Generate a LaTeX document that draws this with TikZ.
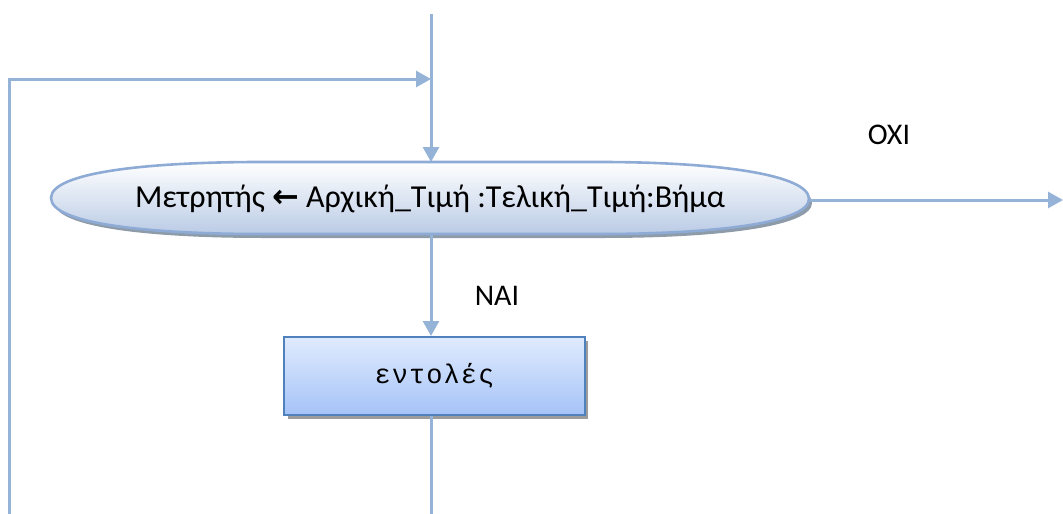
\documentclass[tikz,border=0pt]{standalone}
\usepackage{fontspec}
\setmainfont{Carlito}
\newfontfamily\arrowfont{DejaVu Sans}
\newfontfamily\monof[LetterSpace=4]{Liberation Mono}
\usetikzlibrary{shapes.geometric,arrows.meta}
\definecolor{lineblue}{HTML}{95B3D7}
\definecolor{ellborder}{HTML}{8EABD6}
\definecolor{elltop}{HTML}{FFFFFF}
\definecolor{ellbot}{HTML}{BACBE5}
\definecolor{boxtop}{HTML}{E0EBFD}
\definecolor{boxbot}{HTML}{A5C3F8}
\definecolor{boxborder}{HTML}{4F81BD}
\definecolor{shadowgray}{HTML}{8A8A8A}
\tikzset{
  conn/.style={draw=lineblue, line width=3pt, -{Triangle[length=15pt,width=16pt]}},
  plain/.style={draw=lineblue, line width=3pt},
  lbl/.style={font=\fontsize{30}{34}\selectfont, inner sep=0pt},
}
\begin{document}
\begin{tikzpicture}[x=1pt,y=-1pt]
\useasboundingbox (0,0) rectangle (1063,514);
% loop shape shadow
\fill[shadowgray!60!lineblue, shift={(3,4)}]
  (51,198) .. controls (51,172) and (150,162) .. (260,162) -- (600,162)
  .. controls (720,162) and (809,175) .. (809,199)
  .. controls (809,222) and (720,234) .. (600,234) -- (260,234)
  .. controls (150,234) and (51,224) .. (51,198) -- cycle;
% loop shape
\path[top color=elltop, bottom color=ellbot, draw=ellborder, line width=2.6pt]
  (51,198) .. controls (51,172) and (150,162) .. (260,162) -- (600,162)
  .. controls (720,162) and (809,175) .. (809,199)
  .. controls (809,222) and (720,234) .. (600,234) -- (260,234)
  .. controls (150,234) and (51,224) .. (51,198) -- cycle;
\node[font=\fontsize{32}{36}\selectfont, inner sep=0pt] (looptext) at (430,199)
  {Μετρητής {\arrowfont\textbf{←}} Αρχική\_Τιμή :Τελική\_Τιμή:Βήμα};
% box shadow
\fill[shadowgray!85] (288,341) rectangle (588,419);
\node[draw=boxborder, line width=2pt, top color=boxtop, bottom color=boxbot,
  minimum width=301pt, minimum height=78pt, inner sep=0pt] (body) at (434.5,376)
  {\monof\fontsize{27}{30}\selectfont εντολές};
% coordinates
\coordinate (top) at (431,14);
\coordinate (join) at (431,79);
\coordinate (corner) at (9,79);
\coordinate (leftbot) at (9,514);
\coordinate (loopN) at (431,162);
\coordinate (loopS) at (431,235);
\coordinate (loopE) at (810,200);
\coordinate (bodybot) at (431,514);
\coordinate (exit) at (1063,200);
% connectors
\draw[plain] (top) -- (join);
\draw[conn] (join) -- (loopN);
\draw[conn] (leftbot) -- (corner) -- (join);
\draw[conn] (loopS) -- (join |- body.north);
\draw[plain] (bodybot |- body.south) -- (bodybot);
\draw[conn] (loopE) -- (exit);
\node[lbl] (yes) at (497,296) {ΝΑΙ};
\node[lbl] (no) at (889,135) {ΟΧΙ};
\end{tikzpicture}
\end{document}
